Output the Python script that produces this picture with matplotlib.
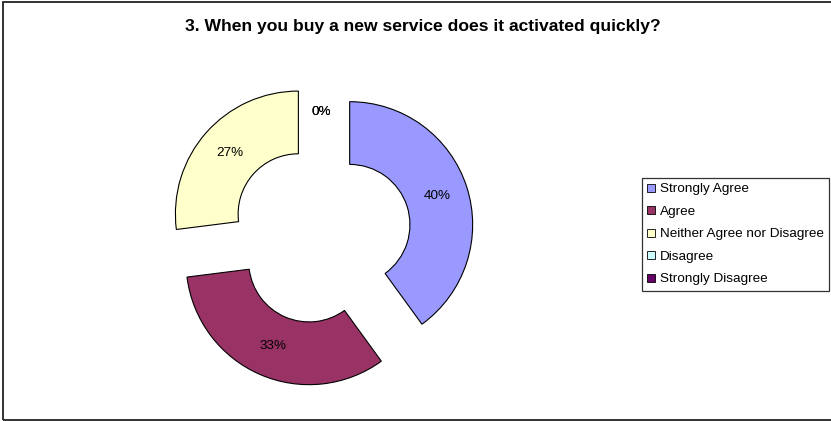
import matplotlib
matplotlib.use('Agg')
import matplotlib.pyplot as plt
from matplotlib.patches import Patch, Rectangle

plt.rcParams['font.family'] = ['Liberation Sans', 'DejaVu Sans']

# data
categories = ['Strongly Agree', 'Agree', 'Neither Agree nor Disagree', 'Disagree', 'Strongly Disagree']
values = [40, 33, 27, 0, 0]
colors = ['#9999FF', '#993366', '#FFFFCC', '#CCFFFF', '#660066']
title = '3. When you buy a new service does it activated quickly?'

W, H = 831, 421
fig = plt.figure(figsize=(W / 100, H / 100), dpi=100)

# donut geometry (pixels)
cx, cy, R = 321, 234, 123
ax = fig.add_axes([0, 0, 1, 1])

ring = 0.51
wedges, texts, autotexts = ax.pie(
    values, colors=colors, startangle=90, counterclock=False,
    explode=[0.245] * len(values), radius=1,
    autopct='%1.0f%%', pctdistance=1 - ring / 2,
    wedgeprops=dict(width=ring, edgecolor='black', linewidth=0.8),
    textprops=dict(fontsize=9.7, color='black'))
for w, v in zip(wedges, values):
    if v == 0:
        w.set_linewidth(0)

# pie resets the limits, so put them back in pixel scale
ax.set_xlim(-cx / R, (W - cx) / R)
ax.set_ylim(-(H - cy) / R, cy / R)
ax.axis('off')

# legend
handles = [Patch(facecolor=c, edgecolor='black', linewidth=0.6) for c in colors]
leg = fig.legend(handles, categories, loc='upper left',
                 bbox_to_anchor=(642 / W, 1 - 178 / H), borderaxespad=0,
                 fontsize=9.7, frameon=True, fancybox=False,
                 handlelength=0.55, handleheight=0.55, handletextpad=0.35,
                 borderpad=0.4, labelspacing=0.78)
leg.get_frame().set_edgecolor('black')
leg.get_frame().set_linewidth(0.9)

fig.text(423 / W, 1 - 27 / H, title, ha='center', va='center',
         fontsize=12.6, fontweight='bold')

# outer border
fig.patches.append(Rectangle((3.5 / W, 1.5 / H), 1.0, 1 - 3 / H,
                             transform=fig.transFigure, fill=False,
                             edgecolor='#222222', linewidth=1.3))

fig.savefig('out.png', dpi=100)
